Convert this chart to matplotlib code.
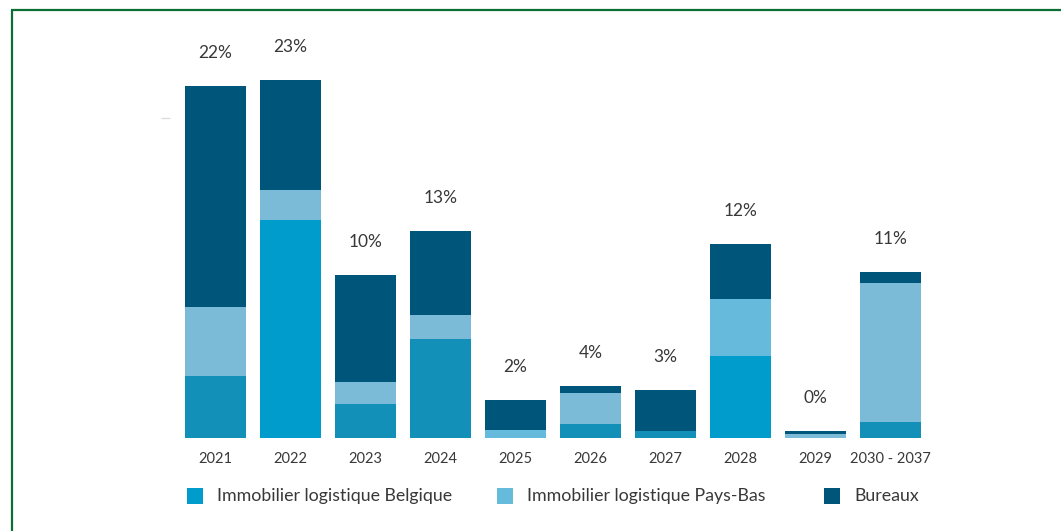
import matplotlib
matplotlib.use("Agg")
import matplotlib.pyplot as plt
from matplotlib.lines import Line2D
from matplotlib.patches import Rectangle

plt.rcParams["font.family"] = ["Lato", "DejaVu Sans"]

# Lease expiry profile (share of contractual rent, %)
periods = ["2021", "2022", "2023", "2024", "2025", "2026", "2027", "2028", "2029", "2030 - 2037"]
logistique_be = [3.9, 13.6, 2.1, 6.2, 0.0, 0.9, 0.45, 5.1, 0.0, 1.0]
logistique_nl = [4.3, 1.9, 1.4, 1.5, 0.5, 1.9, 0.0, 3.6, 0.25, 8.7]
bureaux = [13.8, 6.9, 6.7, 5.25, 1.9, 0.45, 2.55, 3.45, 0.2, 0.7]
total_labels = ["22%", "23%", "10%", "13%", "2%", "4%", "3%", "12%", "0%", "11%"]
series_names = ["Immobilier logistique Belgique", "Immobilier logistique Pays-Bas", "Bureaux"]

# Palette
BE_LEGEND, NL_LEGEND, BUR = "#009ccc", "#66bbdd", "#00557a"
be_colors = ["#1290b8", "#009ccc", "#1290b8", "#1290b8", "#1290b8",
             "#1290b8", "#1290b8", "#009ccc", "#1290b8", "#1290b8"]
nl_colors = ["#7bbbd8", "#7bbbd8", "#7bbbd8", "#7bbbd8", "#66bbdd",
             "#7bbbd8", "#7bbbd8", "#66bbdd", "#7bbbd8", "#7bbbd8"]
TEXT = "#383838"

W, H = 1061, 531
fig = plt.figure(figsize=(W / 100, H / 100), dpi=100)

ax_left, ax_right, ax_bottom, ax_top = 170, 936, 438, 30
ax = fig.add_axes([ax_left / W, 1 - ax_bottom / H,
                   (ax_right - ax_left) / W, (ax_bottom - ax_top) / H])

x = list(range(len(periods)))
width = 0.813
bottom_nl = logistique_be
bottom_bur = [a + b for a, b in zip(logistique_be, logistique_nl)]
totals = [a + b for a, b in zip(bottom_bur, bureaux)]

ax.bar(x, logistique_be, width, color=be_colors, linewidth=0)
ax.bar(x, logistique_nl, width, bottom=bottom_nl, color=nl_colors, linewidth=0)
ax.bar(x, bureaux, width, bottom=bottom_bur, color=BUR, linewidth=0)

for xi, t, lab in zip(x, totals, total_labels):
    ax.annotate(lab, (xi, t), xytext=(0, 33), textcoords="offset pixels",
                ha="center", va="center", fontsize=12.5, color=TEXT)

ax.set_xlim(-0.6067, 9.6067)
ax.set_ylim(0, (ax_bottom - ax_top) / 16)
ax.set_xticks(x)
ax.set_xticklabels(periods, fontsize=10.5, color=TEXT)
ax.tick_params(axis="x", length=0, pad=10)
ax.set_yticks([20])
ax.set_yticklabels([""])
ax.tick_params(axis="y", length=6.5, width=1, color="#dddddd")
for s in ax.spines.values():
    s.set_visible(False)

# Legend row
legend_x = [187, 497, 824]
legend_cols = [BE_LEGEND, NL_LEGEND, BUR]
sq = 16
ly = 496
for lx, c, name in zip(legend_x, legend_cols, series_names):
    fig.patches.append(Rectangle((lx / W, 1 - (ly + sq / 2) / H), sq / W, sq / H,
                                 transform=fig.transFigure, color=c, linewidth=0))
    fig.text((lx + sq + 14) / W, 1 - ly / H, name, fontsize=12.8, color=TEXT,
             ha="left", va="center")

# Frame lines
green = "#0b6e35"
fig.add_artist(Line2D([11.5 / W, 11.5 / W], [0, 1 - 10 / H], transform=fig.transFigure,
                      color=green, linewidth=1.6, solid_capstyle="butt"))
fig.add_artist(Line2D([10.7 / W, 1], [1 - 10 / H, 1 - 10 / H], transform=fig.transFigure,
                      color=green, linewidth=1.6, solid_capstyle="butt"))

fig.savefig("out.png", dpi=100, facecolor="white")
